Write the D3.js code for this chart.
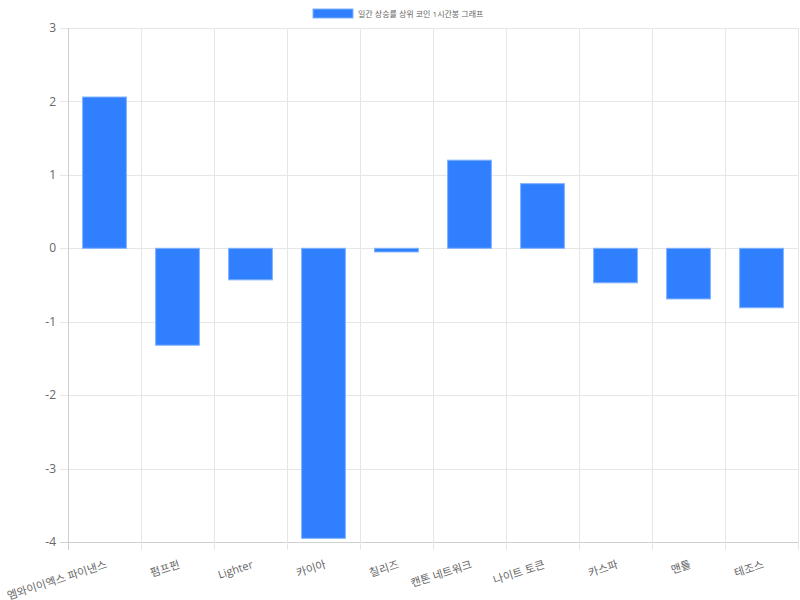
<!DOCTYPE html>
<html>
<head>
<meta charset="utf-8">
<script src="https://cdn.jsdelivr.net/npm/d3@7"></script>
<style>
  body { margin: 0; background: #fff; }
  svg { display: block; font-family: "Open Sans", "Noto Sans CJK KR", sans-serif; }
</style>
</head>
<body>
<svg id="chart" width="800" height="600"></svg>
<script>
// 데이터
var coins = ["엠와이이엑스 파이낸스", "펌프펀", "Lighter", "카이아", "칠리즈",
             "캔톤 네트워크", "나이트 토큰", "카스파", "맨틀", "테조스"];
var changes = [2.06, -1.32, -0.43, -3.95, -0.05, 1.20, 0.88, -0.47, -0.69, -0.81];
var yTicks = [-4, -3, -2, -1, 0, 1, 2, 3];
var seriesName = "일간 상승률 상위 코인 1시간봉 그래프";

// plot area (window.top is reserved, so no "top" here)
var plotL = 68, plotR = 798, plotT = 28, plotB = 542;

var svg = d3.select("#chart");

var x = d3.scaleBand()
    .domain(coins)
    .range([plotL, plotR]);

var y = d3.scaleLinear()
    .domain([-4, 3])
    .range([plotB, plotT]);

// gridlines (y)
svg.append("g").selectAll("line")
    .data(yTicks)
    .enter().append("line")
    .attr("x1", plotL - 8)
    .attr("x2", plotR)
    .attr("y1", function (d) { return Math.round(y(d)) + 0.5; })
    .attr("y2", function (d) { return Math.round(y(d)) + 0.5; })
    .style("stroke", function (d) { return d === -4 ? "#cfcfcf" : "#e6e6e6"; });

// gridlines (x)
var xLines = coins.map(function (c) { return x(c); }).concat([plotR]);
svg.append("g").selectAll("line")
    .data(xLines)
    .enter().append("line")
    .attr("x1", function (d) { return Math.round(d) + 0.5; })
    .attr("x2", function (d) { return Math.round(d) + 0.5; })
    .attr("y1", plotT)
    .attr("y2", plotB + 8)
    .style("stroke", function (d, i) { return i === 0 ? "#cfcfcf" : "#e6e6e6"; });

// y labels
svg.append("g").selectAll("text")
    .data(yTicks)
    .enter().append("text")
    .attr("x", plotL - 12)
    .attr("y", function (d) { return y(d); })
    .attr("dy", "0.35em")
    .attr("text-anchor", "end")
    .style("font-size", "12px")
    .style("fill", "#666")
    .text(function (d) { return d; });

// bars
var bw = x.bandwidth() * 0.6;
svg.append("g").selectAll("rect")
    .data(changes)
    .enter().append("rect")
    .attr("x", function (d, i) { return x(coins[i]) + (x.bandwidth() - bw) / 2; })
    .attr("y", function (d) { return y(Math.max(0, d)); })
    .attr("width", bw)
    .attr("height", function (d) { return Math.abs(y(d) - y(0)); })
    .style("fill", "#2f7ffe")
    .style("stroke", "#7fb2ff")
    .style("stroke-width", 1);

// x labels (rotated)
svg.append("g").selectAll("text")
    .data(coins)
    .enter().append("text")
    .attr("transform", function (d) {
        return "translate(" + (x(d) + x.bandwidth() / 2 + 2) + "," + 564 + ") rotate(-18)";
    })
    .attr("dy", "0.35em")
    .attr("text-anchor", "end")
    .style("font-size", "11px")
    .style("fill", "#666")
    .text(function (d) { return d; });

// legend
var legend = svg.append("g");
legend.append("rect")
    .attr("x", 313).attr("y", 9)
    .attr("width", 40).attr("height", 9)
    .style("fill", "#2f7ffe")
    .style("stroke", "#7fb2ff");
legend.append("text")
    .attr("x", 358).attr("y", 14)
    .attr("dy", "0.35em")
    .style("font-size", "8px")
    .style("fill", "#666")
    .text(seriesName);
</script>
</body>
</html>
